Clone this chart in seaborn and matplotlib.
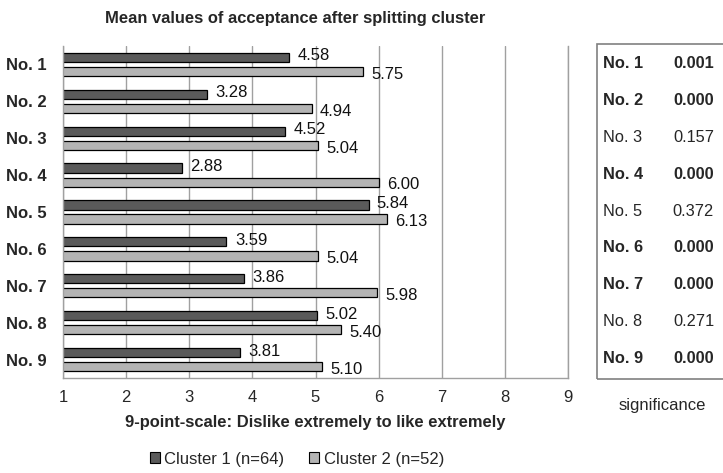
import matplotlib
matplotlib.use("Agg")
import matplotlib.pyplot as plt
from matplotlib.patches import Patch, Rectangle
import seaborn as sns
import pandas as pd

items = ["No. 1", "No. 2", "No. 3", "No. 4", "No. 5", "No. 6", "No. 7", "No. 8", "No. 9"]
cluster1 = [4.58, 3.28, 4.52, 2.88, 5.84, 3.59, 3.86, 5.02, 3.81]
cluster2 = [5.75, 4.94, 5.04, 6.00, 6.13, 5.04, 5.98, 5.40, 5.10]
series_names = ["Cluster 1 (n=64)", "Cluster 2 (n=52)"]
significance = ["0.001", "0.000", "0.157", "0.000", "0.372", "0.000", "0.000", "0.271", "0.000"]
x_ticks = [1, 2, 3, 4, 5, 6, 7, 8, 9]

sns.set_theme(style="white")
plt.rcParams["font.family"] = ["Liberation Sans", "DejaVu Sans"]

df = pd.DataFrame({
    "item": items * 2,
    "value": cluster1 + cluster2,
    "cluster": [series_names[0]] * len(items) + [series_names[1]] * len(items),
})
colors = ["#5a5a5a", "#b4b4b4"]

W, H = 723, 473
fig = plt.figure(figsize=(W / 100, H / 100), dpi=100)
ax_top, ax_bot = 46, 378
ax = fig.add_axes([63 / W, 1 - ax_bot / H, 505 / W, (ax_bot - ax_top) / H])

sns.barplot(data=df, x="value", y="item", hue="cluster", orient="h",
            palette=colors, edgecolor="black", linewidth=0.9,
            width=0.77, gap=0.35, ax=ax, legend=False)

offsets = [1.0, -2.0]
for cont, dy in zip(ax.containers, offsets):
    texts = ax.bar_label(cont, fmt="%.2f", padding=6, fontsize=12, color="#111111")
    for t in texts:
        t.xyann = (6, dy)

ax.set_xlim(1, 9)
ax.set_xticks(x_ticks)
ax.set_xticklabels([str(t) for t in x_ticks], fontsize=12)
ax.set_ylabel("")
ax.set_xlabel("9-point-scale: Dislike extremely to like extremely",
              fontsize=11.9, fontweight="bold", labelpad=7)
ax.tick_params(axis="y", length=0, pad=11.5, labelsize=12)
ax.tick_params(axis="x", length=0, pad=9)
for lab in ax.get_yticklabels():
    lab.set_fontweight("bold")
ax.grid(axis="x", color="#a0a0a0", linewidth=1)
ax.set_axisbelow(True)
ax.spines["top"].set_visible(False)
for s in ["left", "bottom", "right"]:
    ax.spines[s].set_color("#a0a0a0")
    ax.spines[s].set_linewidth(1)

fig.text(295 / W, 1 - 18 / H, "Mean values of acceptance after splitting cluster",
         ha="center", va="center", fontsize=11.9, fontweight="bold")

# significance table
fig.patches.append(Rectangle((597 / W, 1 - 379 / H), 140 / W, 335 / H,
                             transform=fig.transFigure, fill=False,
                             edgecolor="#808080", linewidth=1.2))
row_y0, row_step = 64, 36.75
for i, (it, p) in enumerate(zip(items, significance)):
    y = 1 - (row_y0 + i * row_step) / H
    fw = "bold" if float(p) < 0.05 else "normal"
    fig.text(603 / W, y, it, ha="left", va="center", fontsize=11.8, fontweight=fw)
    fig.text(714 / W, y, p, ha="right", va="center", fontsize=11.8, fontweight=fw)
fig.text(662 / W, 1 - 405 / H, "significance", ha="center", va="center", fontsize=12)

handles = [Patch(facecolor=c, edgecolor="black", linewidth=0.8) for c in colors]
fig.legend(handles, series_names, loc="center", bbox_to_anchor=(297 / W, 1 - 459 / H),
           ncol=2, frameon=False, fontsize=12, handlelength=0.6, handleheight=0.6,
           handletextpad=0.25, columnspacing=1.5)

fig.savefig("out.png", dpi=100)
